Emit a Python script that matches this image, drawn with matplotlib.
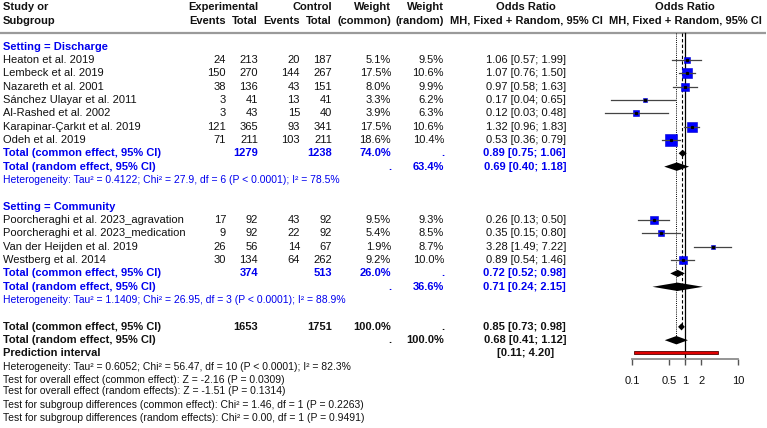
import numpy as np
import matplotlib.pyplot as plt

W, H = 767, 428
plt.rcParams["font.family"] = ["Liberation Sans", "DejaVu Sans"]

BLUE = "#0000ee"
INK = "#111111"

# ---- data -------------------------------------------------------------
disc_study = ["Heaton et al. 2019", "Lembeck et al. 2019", "Nazareth et al. 2001",
              "Sánchez Ulayar et al. 2011", "Al-Rashed et al. 2002",
              "Karapinar-Çarkıt et al. 2019", "Odeh et al. 2019"]
disc_ev_e = [24, 150, 38, 3, 3, 121, 71]
disc_n_e = [213, 270, 136, 41, 43, 365, 211]
disc_ev_c = [20, 144, 43, 13, 15, 93, 103]
disc_n_c = [187, 267, 151, 41, 40, 341, 211]
disc_w_com = [5.1, 17.5, 8.0, 3.3, 3.9, 17.5, 18.6]
disc_w_ran = [9.5, 10.6, 9.9, 6.2, 6.3, 10.6, 10.4]
disc_or = [1.06, 1.07, 0.97, 0.17, 0.12, 1.32, 0.53]
disc_lo = [0.57, 0.76, 0.58, 0.04, 0.03, 0.96, 0.36]
disc_hi = [1.99, 1.50, 1.63, 0.65, 0.48, 1.83, 0.79]

comm_study = ["Poorcheraghi et al. 2023_agravation", "Poorcheraghi et al. 2023_medication",
              "Van der Heijden et al. 2019", "Westberg et al. 2014"]
comm_ev_e = [17, 9, 26, 30]
comm_n_e = [92, 92, 56, 134]
comm_ev_c = [43, 22, 14, 64]
comm_n_c = [92, 92, 67, 262]
comm_w_com = [9.5, 5.4, 1.9, 9.2]
comm_w_ran = [9.3, 8.5, 8.7, 10.0]
comm_or = [0.26, 0.35, 3.28, 0.89]
comm_lo = [0.13, 0.15, 1.49, 0.54]
comm_hi = [0.50, 0.80, 7.22, 1.46]

# pooled: [estimate, lower, upper]
disc_common = [0.89, 0.75, 1.06]
disc_random = [0.69, 0.40, 1.18]
comm_common = [0.72, 0.52, 0.98]
comm_random = [0.71, 0.24, 2.15]
all_common = [0.85, 0.73, 0.98]
all_random = [0.68, 0.41, 1.12]
pred_int = [0.11, 4.20]

disc_totals = [1279, 1238, 74.0, 63.4]
comm_totals = [374, 513, 26.0, 36.6]
all_totals = [1653, 1751, 100.0, 100.0]

disc_het = "Heterogeneity: Tau² = 0.4122; Chi² = 27.9, df = 6 (P < 0.0001); I² = 78.5%"
comm_het = "Heterogeneity: Tau² = 1.1409; Chi² = 26.95, df = 3 (P < 0.0001); I² = 88.9%"
foot_lines = [
    "Heterogeneity: Tau² = 0.6052; Chi² = 56.47, df = 10 (P < 0.0001); I² = 82.3%",
    "Test for overall effect (common effect): Z = -2.16 (P = 0.0309)",
    "Test for overall effect (random effects): Z = -1.51 (P = 0.1314)",
    "Test for subgroup differences (common effect): Chi² = 1.46, df = 1 (P = 0.2263)",
    "Test for subgroup differences (random effects): Chi² = 0.00, df = 1 (P = 0.9491)",
]
tick_vals = [0.1, 0.5, 1, 2, 10]
tick_labels = ["0.1", "0.5", "1", "2", "10"]

# ---- layout -----------------------------------------------------------
X_EV_E, X_N_E, X_EV_C, X_N_C, X_WC, X_WR, X_OR = 226, 258, 300, 332, 391, 444, 566
FS, FS_SMALL = 8, 7.45


def row_y(i):
    return 46.5 + 13.35 * i


fig = plt.figure(figsize=(W / 100, H / 100), dpi=100)
fig.patch.set_facecolor("white")
ax = fig.add_axes([0, 0, 1, 1])
ax.set_xlim(0, W)
ax.set_ylim(H, 0)
ax.axis("off")

# forest panel on a log scale, sharing the pixel-based y coordinates
FX_LEFT, X_ONE, PX_DEC = 590, 685.3, 53.0
fx = fig.add_axes([FX_LEFT / W, 0, 1 - FX_LEFT / W, 1])
fx.set_xscale("log")
fx.set_xlim(10 ** ((FX_LEFT - X_ONE) / PX_DEC), 10 ** ((W - X_ONE) / PX_DEC))
fx.set_ylim(H, 0)
fx.patch.set_visible(False)
for s in ["top", "left", "right"]:
    fx.spines[s].set_visible(False)
fx.spines["bottom"].set_position(("data", 359))
fx.spines["bottom"].set_bounds(0.1, 10)
fx.spines["bottom"].set_color("#8c8c8c")
fx.spines["bottom"].set_linewidth(1.3)
fx.set_xticks(tick_vals)
fx.set_xticklabels(tick_labels)
fx.xaxis.set_minor_locator(plt.NullLocator())
fx.tick_params(axis="x", length=4, width=1, color="#555555", labelsize=FS,
               labelcolor=INK, pad=8)
fx.set_yticks([])


def txt(x, y, s, ha="right", color=INK, bold=False, size=FS):
    ax.text(x, y, s, ha=ha, va="center", color=color, fontsize=size,
            fontweight="bold" if bold else "normal")


# header
txt(3, 7, "Study or", ha="left", bold=True)
txt(3, 20.5, "Subgroup", ha="left", bold=True)
txt(X_N_E, 7, "Experimental", bold=True)
txt(X_EV_E, 20.5, "Events", bold=True)
txt(X_N_E, 20.5, "Total", bold=True)
txt(X_N_C, 7, "Control", bold=True)
txt(X_EV_C, 20.5, "Events", bold=True)
txt(X_N_C, 20.5, "Total", bold=True)
txt(X_WC, 7, "Weight", bold=True)
txt(X_WC, 20.5, "(common)", bold=True)
txt(X_WR, 7, "Weight", bold=True)
txt(X_WR, 20.5, "(random)", bold=True)
txt(526, 7, "Odds Ratio", ha="center", bold=True)
txt(526, 20.5, "MH, Fixed + Random, 95% CI", ha="center", bold=True)
txt(685, 7, "Odds Ratio", ha="center", bold=True)
txt(685, 20.5, "MH, Fixed + Random, 95% CI", ha="center", bold=True)
ax.plot([0, 766], [32.5, 32.5], color="#9a9a9a", lw=1.6, solid_capstyle="butt")


def ci_str(v):
    return f"{v[0]:.2f} [{v[1]:.2f}; {v[2]:.2f}]"


def diamond(y, v, h=4.2):
    fx.fill([v[1], v[0], v[2], v[0]], [y, y - h, y, y + h], color="black", lw=0, zorder=4)


def block(start, title, study, ev_e, n_e, ev_c, n_c, w_com, w_ran, ors, los, his,
          common, random, totals, het):
    txt(3, row_y(start), title, ha="left", color=BLUE, bold=True)
    for k in range(len(study)):
        y = row_y(start + 1 + k)
        txt(3, y, study[k], ha="left")
        txt(X_EV_E, y, str(ev_e[k]))
        txt(X_N_E, y, str(n_e[k]))
        txt(X_EV_C, y, str(ev_c[k]))
        txt(X_N_C, y, str(n_c[k]))
        txt(X_WC, y, f"{w_com[k]:.1f}%")
        txt(X_WR, y, f"{w_ran[k]:.1f}%")
        txt(X_OR, y, ci_str([ors[k], los[k], his[k]]))
        fx.plot([ors[k]], [y], marker="s", ms=1.84 * np.sqrt(w_com[k]),
                color="#0000ff", mec="#0000cc", mew=0.4, zorder=3)
        fx.plot([los[k], his[k]], [y, y], color="#444444", lw=0.9, zorder=4)
        fx.plot([ors[k]], [y], marker="s", ms=1.3, color="black", zorder=5)
    yc = row_y(start + 1 + len(study))
    yr = row_y(start + 2 + len(study))
    txt(3, yc, "Total (common effect, 95% CI)", ha="left", color=BLUE, bold=True)
    txt(X_N_E, yc, str(totals[0]), color=BLUE, bold=True)
    txt(X_N_C, yc, str(totals[1]), color=BLUE, bold=True)
    txt(X_WC, yc, f"{totals[2]:.1f}%", color=BLUE, bold=True)
    txt(X_WR, yc, ".", color=BLUE, bold=True)
    txt(X_OR, yc, ci_str(common), color=BLUE, bold=True)
    txt(3, yr, "Total (random effect, 95% CI)", ha="left", color=BLUE, bold=True)
    txt(X_WC, yr, ".", color=BLUE, bold=True)
    txt(X_WR, yr, f"{totals[3]:.1f}%", color=BLUE, bold=True)
    txt(X_OR, yr, ci_str(random), color=BLUE, bold=True)
    diamond(yc, common, h=3.6)
    diamond(yr, random)
    txt(3, row_y(start + 3 + len(study)), het, ha="left", color=BLUE, size=FS_SMALL)


block(0, "Setting = Discharge", disc_study, disc_ev_e, disc_n_e, disc_ev_c, disc_n_c,
      disc_w_com, disc_w_ran, disc_or, disc_lo, disc_hi, disc_common, disc_random,
      disc_totals, disc_het)
block(12, "Setting = Community", comm_study, comm_ev_e, comm_n_e, comm_ev_c, comm_n_c,
      comm_w_com, comm_w_ran, comm_or, comm_lo, comm_hi, comm_common, comm_random,
      comm_totals, comm_het)

# overall
yc, yr, yp = row_y(21), row_y(22), 352.5
txt(3, yc, "Total (common effect, 95% CI)", ha="left", bold=True)
txt(X_N_E, yc, str(all_totals[0]), bold=True)
txt(X_N_C, yc, str(all_totals[1]), bold=True)
txt(X_WC, yc, f"{all_totals[2]:.1f}%", bold=True)
txt(X_WR, yc, ".", bold=True)
txt(X_OR, yc, ci_str(all_common), bold=True)
txt(3, yr, "Total (random effect, 95% CI)", ha="left", bold=True)
txt(X_WC, yr, ".", bold=True)
txt(X_WR, yr, f"{all_totals[3]:.1f}%", bold=True)
txt(X_OR, yr, ci_str(all_random), bold=True)
txt(3, yp, "Prediction interval", ha="left", bold=True)
txt(525.5, yp, f"[{pred_int[0]:.2f}; {pred_int[1]:.2f}]", ha="center", bold=True)
diamond(yc, all_common, h=3.6)
diamond(yr, all_random)
fx.fill([pred_int[0], pred_int[1], pred_int[1], pred_int[0]],
        [yp - 1.4, yp - 1.4, yp + 1.4, yp + 1.4], facecolor="#e00000",
        edgecolor="#550000", lw=0.6, zorder=4)

for y, s in zip([367, 380, 391.5, 405.5, 418], foot_lines):
    txt(3, y, s, ha="left", size=FS_SMALL)

# reference lines
fx.plot([1, 1], [33, 359], color="black", lw=0.9, zorder=2)
fx.plot([all_common[0]] * 2, [33, yc], color="black", lw=0.8, ls=(0, (3, 2)), zorder=2)
fx.plot([all_random[0]] * 2, [33, yr], color="black", lw=0.7, ls=(0, (1, 1.2)), zorder=2)

fig.savefig("out.png", dpi=100, facecolor="white")
